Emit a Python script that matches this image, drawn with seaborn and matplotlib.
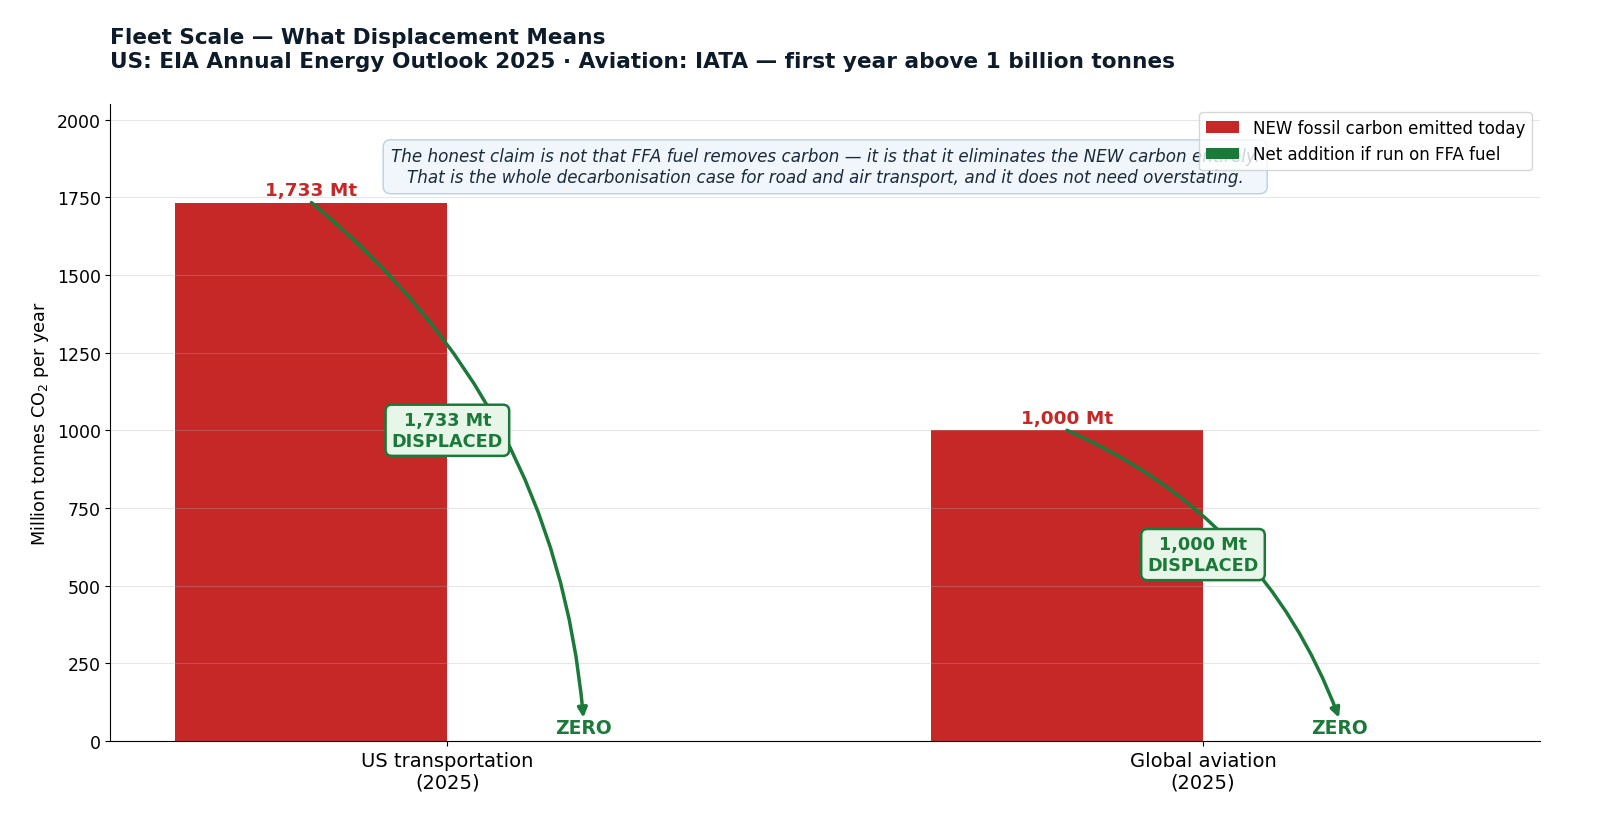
import pandas as pd
import matplotlib.pyplot as plt
import seaborn as sns

# Chart data
categories = ['US transportation\n(2025)', 'Global aviation\n(2025)']
series_names = ['NEW fossil carbon emitted today', 'Net addition if run on FFA fuel']
fossil_mt = [1733, 1000]
ffa_net_mt = [0, 0]
value_labels = ['1,733 Mt', '1,000 Mt']
displaced_y = [1000, 600]

RED = '#c62828'
GREEN = '#1b7a3a'

# Long-form table for seaborn
df = pd.DataFrame({
    'category': categories * 2,
    'series': [series_names[0]] * 2 + [series_names[1]] * 2,
    'value': fossil_mt + ffa_net_mt,
})

fig, ax = plt.subplots(figsize=(16, 8.37), dpi=100)
fig.subplots_adjust(left=0.069, right=0.9625, top=0.8745, bottom=0.1135)

sns.barplot(data=df, x='category', y='value', hue='series', order=categories,
            hue_order=series_names, palette=[RED, GREEN], width=0.72,
            errorbar=None, saturation=1, ax=ax)

ax.set_xlim(-0.446, 1.446)
ax.set_ylim(0, 2050)
ax.yaxis.grid(True, alpha=0.3)
ax.xaxis.grid(False)
ax.spines['top'].set_visible(False)
ax.spines['right'].set_visible(False)
ax.set_xlabel('')
ax.set_ylabel('Million tonnes CO$_2$ per year', fontsize=12.7)
ax.tick_params(axis='x', labelsize=14)
ax.tick_params(axis='y', labelsize=12.5)

# Annotations: value labels, displacement arrows, ZERO labels
bw = 0.72 / 2
for i, h in enumerate(fossil_mt):
    x_red = i - bw / 2
    x_green = i + bw / 2
    ax.text(x_red, h + 12, value_labels[i], ha='center', va='bottom',
            color=RED, fontsize=13.3, fontweight='bold')
    ax.annotate('', xy=(x_green, 75), xytext=(x_red, h),
                arrowprops=dict(arrowstyle='-|>', color=GREEN, lw=2.5,
                                mutation_scale=14,
                                connectionstyle='arc3,rad=-0.21',
                                shrinkA=0, shrinkB=0))
    ax.text(x_green, 45, 'ZERO', ha='center', va='center',
            color=GREEN, fontsize=13.5, fontweight='bold')
    ax.text(i, displaced_y[i], f'{value_labels[i]}\nDISPLACED', ha='center',
            va='center', color=GREEN, fontsize=12.7, fontweight='bold',
            bbox=dict(boxstyle='round,pad=0.35', facecolor='#e8f5e9',
                      edgecolor=GREEN, linewidth=1.8))

ax.text(0.5, 1848,
        'The honest claim is not that FFA fuel removes carbon \u2014 it is that it '
        'eliminates the NEW carbon entirely.\n'
        'That is the whole decarbonisation case for road and air transport, '
        'and it does not need overstating.',
        ha='center', va='center', fontsize=12.1, style='italic', color='#1a2a3a',
        bbox=dict(boxstyle='round,pad=0.45', facecolor='#f0f6fc',
                  edgecolor='#b8d0e8', linewidth=1))

ax.legend(loc='upper right', fontsize=12)

ax.set_title('Fleet Scale \u2014 What Displacement Means\n'
             'US: EIA Annual Energy Outlook 2025 \u00b7 Aviation: IATA \u2014 '
             'first year above 1 billion tonnes',
             loc='left', fontsize=15.6, fontweight='bold', color='#0d1b2a',
             pad=27)

plt.savefig('out.png')
plt.close()
